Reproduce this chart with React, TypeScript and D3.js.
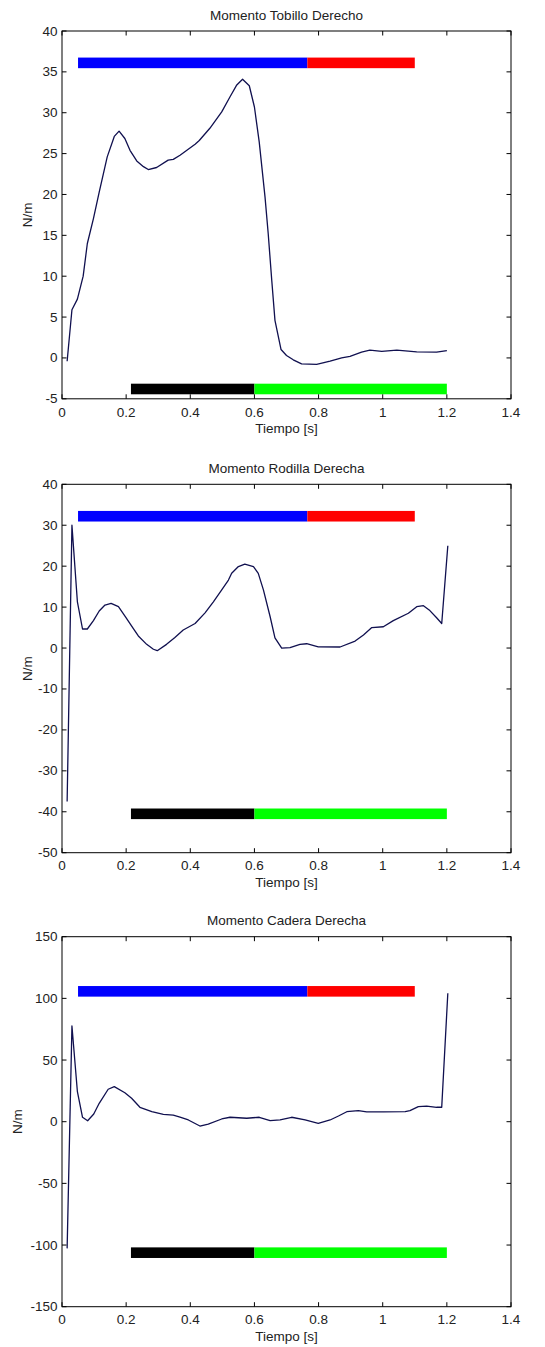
import React from "react";
import * as d3 from "d3";

// ---------- data ----------
const tobilloT = [0.016, 0.031, 0.048, 0.066, 0.079, 0.098, 0.116, 0.141, 0.163, 0.178, 0.196, 0.212, 0.233, 0.254, 0.269, 0.295, 0.331, 0.347, 0.368, 0.415, 0.428, 0.461, 0.498, 0.524, 0.545, 0.563, 0.584, 0.600, 0.615, 0.633, 0.643, 0.654, 0.664, 0.683, 0.700, 0.721, 0.747, 0.794, 0.836, 0.872, 0.898, 0.934, 0.960, 0.997, 1.044, 1.106, 1.168, 1.200];
const tobilloV = [-0.4, 5.9, 7.2, 10.0, 14.0, 17.05, 20.3, 24.6, 27.1, 27.75, 26.85, 25.4, 24.1, 23.4, 23.05, 23.3, 24.2, 24.3, 24.8, 26.15, 26.6, 28.1, 30.1, 31.95, 33.4, 34.1, 33.3, 30.7, 26.4, 19.7, 15.2, 9.5, 4.6, 1.03, 0.3, -0.23, -0.73, -0.8, -0.4, 0.0, 0.2, 0.7, 0.95, 0.8, 0.95, 0.75, 0.7, 0.9];

const rodillaT = [0.016, 0.031, 0.048, 0.064, 0.079, 0.098, 0.116, 0.134, 0.153, 0.176, 0.199, 0.222, 0.238, 0.264, 0.285, 0.297, 0.326, 0.352, 0.378, 0.415, 0.446, 0.472, 0.498, 0.519, 0.529, 0.550, 0.570, 0.597, 0.612, 0.628, 0.649, 0.664, 0.685, 0.711, 0.742, 0.763, 0.799, 0.867, 0.914, 0.940, 0.966, 1.002, 1.033, 1.080, 1.106, 1.127, 1.147, 1.168, 1.184, 1.203];
const rodillaV = [-37.5, 30.0, 11.3, 4.65, 4.65, 6.7, 9.05, 10.5, 10.9, 10.1, 7.5, 4.8, 2.95, 0.9, -0.3, -0.65, 0.9, 2.6, 4.4, 6.0, 8.6, 11.3, 14.2, 16.6, 18.25, 19.9, 20.5, 19.9, 18.25, 14.2, 7.65, 2.5, 0.0, 0.1, 0.9, 1.05, 0.3, 0.25, 1.7, 3.2, 5.0, 5.2, 6.7, 8.5, 10.1, 10.35, 9.15, 7.4, 6.0, 25.0];

const caderaT = [0.016, 0.031, 0.048, 0.064, 0.080, 0.099, 0.116, 0.144, 0.163, 0.196, 0.217, 0.243, 0.280, 0.316, 0.347, 0.368, 0.394, 0.430, 0.456, 0.498, 0.524, 0.576, 0.615, 0.649, 0.680, 0.716, 0.758, 0.799, 0.836, 0.862, 0.888, 0.924, 0.950, 1.002, 1.070, 1.085, 1.111, 1.137, 1.168, 1.184, 1.203];
const caderaV = [-102.7, 77.6, 24.3, 3.6, 0.8, 6.2, 14.9, 26.3, 28.4, 23.5, 19.0, 11.7, 8.1, 6.0, 5.4, 3.8, 1.4, -3.5, -1.9, 2.2, 3.6, 2.8, 3.6, 0.8, 1.4, 3.6, 1.4, -1.3, 1.4, 4.6, 8.1, 8.9, 7.9, 7.9, 8.1, 9.0, 12.2, 12.7, 11.7, 11.7, 104.1];

// phase bars: [start, end]
const bluePhase = [0.05, 0.765];
const redPhase = [0.765, 1.1];
const blackPhase = [0.215, 0.6];
const greenPhase = [0.6, 1.2];

const titles = ["Momento Tobillo Derecho", "Momento Rodilla Derecha", "Momento Cadera Derecha"];
const yDomains = [[-5, 40], [-50, 40], [-150, 150]];
const yTickSteps = [5, 10, 50];
const topBarLevels = [36.1, 32.2, 105.7];
const bottomBarLevels = [-3.8, -40.5, -106.2];
const xTicks = [0, 0.2, 0.4, 0.6, 0.8, 1, 1.2, 1.4];
const xLabel = "Tiempo [s]";
const yLabel = "N/m";

// ---------- layout ----------
const W = 545;
const H = 1347;
const LEFT = 62;
const RIGHT = 511;
const panelBoxes = [
  { top: 31, bottom: 398.8, ylabX: 27 },
  { top: 484.3, bottom: 852.7, ylabX: 27 },
  { top: 936.7, bottom: 1306.7, ylabX: 17 },
];
const FONT = "'Liberation Sans', Arial, sans-serif";
const FS = 13.5;
const TICK = 4.5;
const LINE_COLOR = "#10104f";

const series = [
  { t: tobilloT, v: tobilloV },
  { t: rodillaT, v: rodillaV },
  { t: caderaT, v: caderaV },
];

function Panel({ i }: { i: number }) {
  const box = panelBoxes[i];
  const x = d3.scaleLinear().domain([0, 1.4]).range([LEFT, RIGHT]);
  const y = d3.scaleLinear().domain(yDomains[i]).range([box.bottom, box.top]);
  const [y0, y1] = yDomains[i];
  const yTicks = d3.range(y0, y1 + 1e-9, yTickSteps[i]);
  const pts: [number, number][] = series[i].t.map((t, k) => [t, series[i].v[k]]);
  const line = d3
    .line<[number, number]>()
    .x((d) => x(d[0]))
    .y((d) => y(d[1]));
  const bar = (p: number[], level: number, color: string) => (
    <rect
      x={x(p[0])}
      width={x(p[1]) - x(p[0])}
      y={y(level) - 5.3}
      height={10.6}
      fill={color}
    />
  );
  return (
    <g>
      <text
        x={(LEFT + RIGHT) / 2}
        y={box.top - 16}
        textAnchor="middle"
        dominantBaseline="central"
        fontFamily={FONT}
        fontSize={FS}
        fill="#222"
      >
        {titles[i]}
      </text>
      {bar(bluePhase, topBarLevels[i], "#0000ff")}
      {bar(redPhase, topBarLevels[i], "#ff0000")}
      {bar(blackPhase, bottomBarLevels[i], "#000000")}
      {bar(greenPhase, bottomBarLevels[i], "#00ff00")}
      <path d={line(pts) || ""} fill="none" stroke={LINE_COLOR} strokeWidth={1.3} strokeLinejoin="round" />
      {xTicks.map((t) => (
        <g key={"x" + t}>
          <line x1={x(t)} x2={x(t)} y1={box.bottom} y2={box.bottom - TICK} stroke="#000" />
          <line x1={x(t)} x2={x(t)} y1={box.top} y2={box.top + TICK} stroke="#000" />
          <text
            x={x(t)}
            y={box.bottom + 13.2}
            textAnchor="middle"
            dominantBaseline="central"
            fontFamily={FONT}
            fontSize={FS}
            fill="#222"
          >
            {String(t)}
          </text>
        </g>
      ))}
      {yTicks.map((v) => (
        <g key={"y" + v}>
          <line x1={LEFT} x2={LEFT + TICK} y1={y(v)} y2={y(v)} stroke="#000" />
          <line x1={RIGHT} x2={RIGHT - TICK} y1={y(v)} y2={y(v)} stroke="#000" />
          <text
            x={LEFT - 4.5}
            y={y(v)}
            textAnchor="end"
            dominantBaseline="central"
            fontFamily={FONT}
            fontSize={FS}
            fill="#222"
          >
            {String(v)}
          </text>
        </g>
      ))}
      <rect
        x={LEFT}
        y={box.top}
        width={RIGHT - LEFT}
        height={box.bottom - box.top}
        fill="none"
        stroke="#000"
        strokeWidth={1}
      />
      <text
        x={(LEFT + RIGHT) / 2}
        y={box.bottom + 30}
        textAnchor="middle"
        dominantBaseline="central"
        fontFamily={FONT}
        fontSize={FS}
        fill="#222"
      >
        {xLabel}
      </text>
      <text
        transform={`translate(${box.ylabX},${(box.top + box.bottom) / 2}) rotate(-90)`}
        textAnchor="middle"
        dominantBaseline="central"
        fontFamily={FONT}
        fontSize={FS}
        fill="#222"
      >
        {yLabel}
      </text>
    </g>
  );
}

export default function App() {
  return (
    <svg
      width={W}
      height={H}
      style={{ position: "absolute", left: 0, top: 0, background: "#fff" }}
    >
      <rect x={0} y={0} width={W} height={H} fill="#fff" />
      {[0, 1, 2].map((i) => (
        <Panel key={i} i={i} />
      ))}
    </svg>
  );
}
